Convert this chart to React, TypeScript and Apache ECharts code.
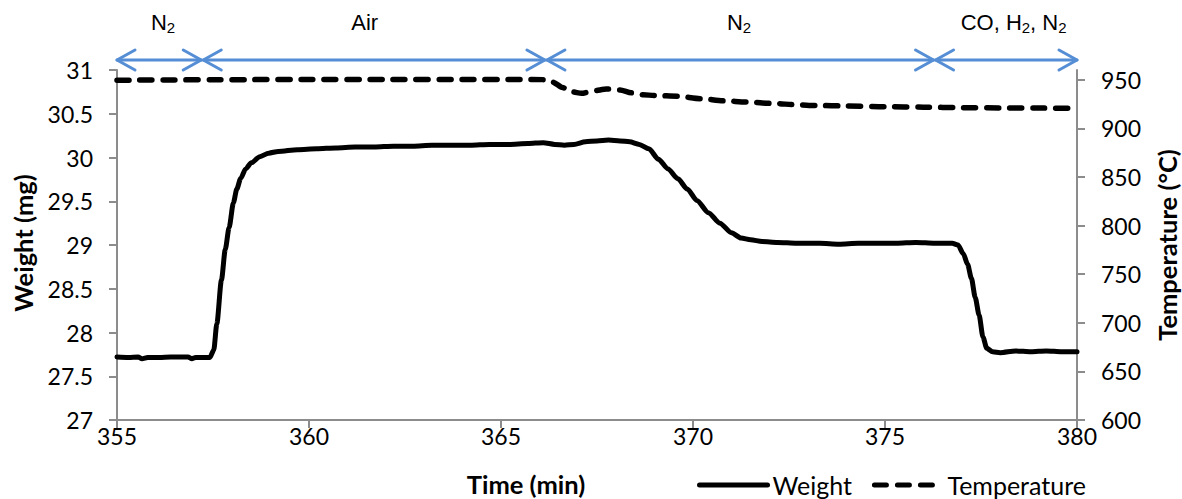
import React, { useEffect, useRef } from "react";
import * as echarts from "echarts";

// ---- data ----
const weightTime = [
  355.0, 355.3, 355.55, 355.65, 355.8, 356.1, 356.4, 356.7, 356.85, 356.95, 357.05, 357.25, 357.42,
  357.52, 357.6, 357.72, 357.82, 357.92, 358.03, 358.12, 358.22, 358.35, 358.5, 358.72, 358.95,
  359.2, 359.7, 360.2, 360.7, 361.2, 361.7, 362.2, 362.7, 363.2, 363.7, 364.2, 364.7, 365.2, 365.7,
  366.1, 366.4, 366.65, 366.9, 367.2, 367.5, 367.8, 368.1, 368.35, 368.6, 368.85, 369.1, 369.35,
  369.6, 369.85, 370.1, 370.4, 370.7, 371.0, 371.25, 371.5, 371.8, 372.2, 372.7, 373.3, 373.8,
  374.3, 374.8, 375.3, 375.8, 376.3, 376.75, 376.9, 377.04, 377.15, 377.25, 377.35, 377.45, 377.55,
  377.65, 377.8, 378.0, 378.4, 378.8, 379.2, 379.6, 380.0,
];
const weightValues = [
  27.72, 27.715, 27.72, 27.7, 27.715, 27.715, 27.72, 27.72, 27.72, 27.7, 27.715, 27.715, 27.715,
  27.8, 28.1, 28.6, 28.95, 29.2, 29.48, 29.64, 29.76, 29.87, 29.94, 30.01, 30.05,
  30.07, 30.09, 30.1, 30.11, 30.12, 30.12, 30.13, 30.13, 30.14, 30.14, 30.14, 30.15, 30.15, 30.16,
  30.17, 30.15, 30.14, 30.15, 30.18, 30.19, 30.2, 30.19, 30.18, 30.15, 30.1, 29.98, 29.87,
  29.76, 29.64, 29.51, 29.37, 29.25, 29.14, 29.08, 29.06, 29.04, 29.03, 29.02, 29.02, 29.01,
  29.02, 29.02, 29.02, 29.03, 29.02, 29.02, 29.0, 28.9, 28.78, 28.62, 28.4, 28.2, 27.95,
  27.82, 27.78, 27.77, 27.79, 27.78, 27.79, 27.78, 27.78,
];
const tempTime = [
  355.0, 355.5, 356.5, 357.5, 358.5, 360.0, 362.0, 364.0, 365.5, 366.1, 366.35, 366.6, 366.85,
  367.1, 367.4, 367.75, 368.1, 368.4, 368.7, 369.0, 369.6, 370.2, 370.8, 371.4, 372.1, 372.7,
  373.2, 374.0, 375.0, 376.0, 377.0, 378.0, 379.0, 380.0,
];
const tempValues = [
  949.5, 949.6, 949.8, 950.0, 950.1, 950.2, 950.2, 950.3, 950.3, 950.1, 947.5, 942.0, 937.5,
  936.0, 938.5, 940.5, 939.5, 936.5, 934.5, 933.8, 933.0, 930.5, 928.3, 927.0, 925.6, 924.2,
  923.5, 923.0, 922.3, 921.8, 921.3, 921.0, 920.8, 920.6,
];
const tempTicks = [600, 650, 700, 750, 800, 850, 900, 950];
const phaseBounds = [355, 357.22, 366.17, 376.29, 380];
const phaseLabelTimes = [356.2, 361.45, 371.2, 378.35];
const phaseLabels = ["{n|N}{s|2}", "{n|Air}", "{n|N}{s|2}", "{n|CO, H}{s|2}{n|, N}{s|2}"];

const AXIS_GRAY = "#8c8c8c";
const BLUE = "#558ED5";
const FONT = "Lato";

export default function App() {
  const ref = useRef<HTMLDivElement>(null);
  useEffect(() => {
    const chart = echarts.init(ref.current!, null, { renderer: "svg" });
    const weightData = weightTime.map((t, i) => [t, weightValues[i]]);
    const tempData = tempTime.map((t, i) => [t, tempValues[i]]);
    const labelStyle = { color: "#000", fontSize: 23, fontFamily: FONT };
    chart.setOption({
      animation: false,
      backgroundColor: "#fff",
      grid: { left: 117, right: 105, top: 70, bottom: 79 },
      xAxis: {
        type: "value",
        min: 355,
        max: 380,
        interval: 5,
        axisLine: { lineStyle: { color: AXIS_GRAY, width: 2 } },
        axisTick: { inside: false, length: 8, lineStyle: { color: AXIS_GRAY, width: 2 } },
        axisLabel: { ...labelStyle, margin: 4 },
        splitLine: { show: false },
      },
      yAxis: [
        {
          type: "value",
          min: 27,
          max: 31,
          interval: 0.5,
          axisLine: { show: true, lineStyle: { color: AXIS_GRAY, width: 2 } },
          axisTick: { show: true, length: 8, lineStyle: { color: AXIS_GRAY, width: 2 } },
          axisLabel: { ...labelStyle, margin: 24 },
          splitLine: { show: false },
        },
        {
          type: "value",
          min: 600,
          max: 960,
          interval: 50,
          position: "right",
          axisLine: { show: true, lineStyle: { color: AXIS_GRAY, width: 2 } },
          axisTick: { show: true, length: 8, customValues: tempTicks, lineStyle: { color: AXIS_GRAY, width: 2 } },
          axisLabel: { ...labelStyle, margin: 24, customValues: tempTicks },
          splitLine: { show: false },
        },
      ],
      legend: {
        left: 697,
        top: 472,
        padding: 0,
        itemWidth: 68,
        itemHeight: 12,
        itemGap: 20,
        itemStyle: { opacity: 0 },
        lineStyle: { width: 5 },
        textStyle: { color: "#000", fontSize: 25, fontFamily: FONT, lineHeight: 26 },
        data: ["Weight", "Temperature"],
      },
      series: [
        {
          name: "Weight",
          type: "line",
          yAxisIndex: 0,
          data: weightData,
          showSymbol: false,
          symbol: "none",
          smooth: 0.25,
          smoothMonotone: "x",
          lineStyle: { color: "#000", width: 5, cap: "round", join: "round" },
          itemStyle: { color: "#000" },
        },
        {
          name: "Temperature",
          type: "line",
          yAxisIndex: 1,
          data: tempData,
          showSymbol: false,
          symbol: "none",
          smooth: 0.25,
          smoothMonotone: "x",
          lineStyle: { color: "#000", width: 5.5, type: [12, 11], cap: "round", join: "round" },
          itemStyle: { color: "#000" },
        },
      ],
    });

    const px = (t: number) => chart.convertToPixel({ xAxisIndex: 0 }, t) as number;
    const arrowY = 60;
    const graphics: any[] = [];
    for (let i = 0; i < phaseBounds.length - 1; i++) {
      const a = px(phaseBounds[i]) + (i === 0 ? 0 : 1);
      const b = px(phaseBounds[i + 1]) - (i === phaseBounds.length - 2 ? 0 : 1);
      const stroke = { stroke: BLUE, lineWidth: 3, fill: null, lineCap: "round", lineJoin: "round" };
      graphics.push({ type: "line", shape: { x1: a, y1: arrowY, x2: b, y2: arrowY }, style: stroke });
      graphics.push({ type: "polyline", shape: { points: [[a + 18, arrowY - 10], [a, arrowY], [a + 18, arrowY + 10]] }, style: stroke });
      graphics.push({ type: "polyline", shape: { points: [[b - 18, arrowY - 10], [b, arrowY], [b - 18, arrowY + 10]] }, style: stroke });
      graphics.push({
        type: "text",
        x: px(phaseLabelTimes[i]),
        y: 22,
        style: {
          text: phaseLabels[i],
          align: "center",
          verticalAlign: "middle",
          fill: "#000",
          rich: {
            n: { fontSize: 22, fontFamily: "Liberation Sans", lineHeight: 26, fill: "#000" },
            s: { fontSize: 15, fontFamily: "Liberation Sans", padding: [10, 0, 0, 0], fill: "#000" },
          },
        },
      });
    }
    const titleStyle = { align: "center", verticalAlign: "middle", fill: "#000", fontSize: 25.5, fontWeight: "bold", fontFamily: FONT };
    graphics.push({
      type: "text",
      x: 23,
      y: 243,
      rotation: Math.PI / 2,
      style: { ...titleStyle, text: "Weight (mg)" },
    });
    graphics.push({
      type: "text",
      x: 1167,
      y: 245,
      rotation: Math.PI / 2,
      style: { ...titleStyle, text: "Temperature (°C)" },
    });
    graphics.push({
      type: "text",
      x: 526,
      y: 484,
      style: { ...titleStyle, text: "Time (min)" },
    });
    chart.setOption({ graphic: graphics });

    return () => chart.dispose();
  }, []);
  return (
    <div
      ref={ref}
      style={{ position: "absolute", left: 0, top: 0, width: 1182, height: 499, background: "#fff" }}
    />
  );
}
